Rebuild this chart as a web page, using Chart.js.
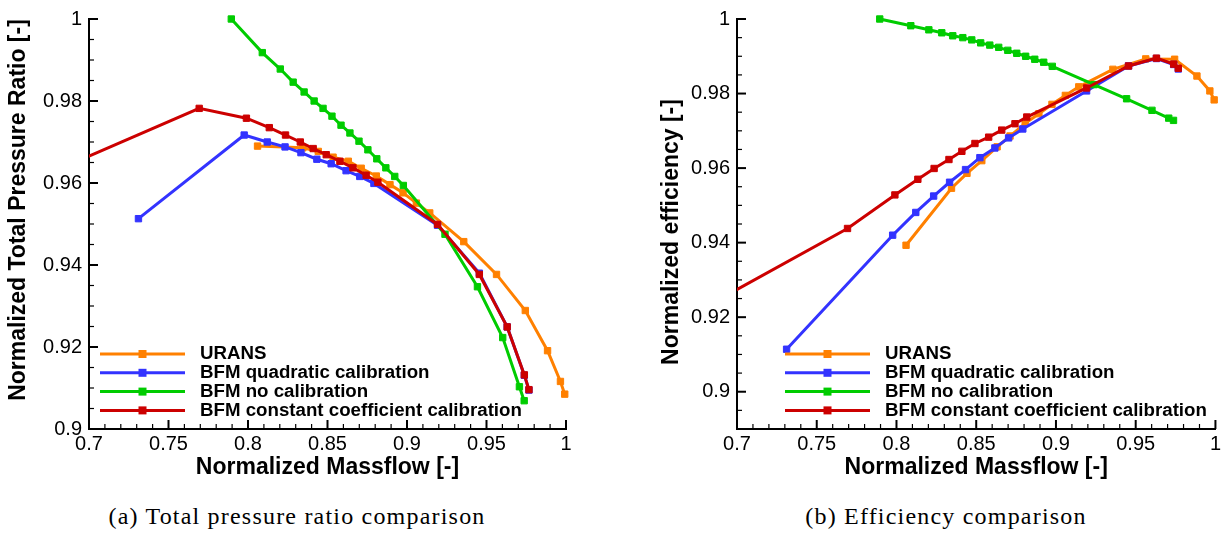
<!DOCTYPE html>
<html>
<head>
<meta charset="utf-8">
<script src="https://cdn.jsdelivr.net/npm/chart.js@4.4.1/dist/chart.umd.min.js"></script>
<style>
body { margin: 0; background: #fff; width: 1224px; height: 534px; position: relative; overflow: hidden; }
canvas { position: absolute; top: 0; }
#pressureChart { left: 0; }
#efficiencyChart { left: 612px; }
.caption { position: absolute; top: 503px; line-height: 26px; font-family: "Liberation Serif", serif; font-size: 24px; letter-spacing: 1.2px; white-space: nowrap; transform: translateX(-50%); color: #000; }
</style>
</head>
<body>
<canvas id="pressureChart" width="612" height="490"></canvas>
<canvas id="efficiencyChart" width="612" height="490"></canvas>
<div class="caption" style="left:297px">(a) Total pressure ratio comparison</div>
<div class="caption" style="left:946px">(b) Efficiency comparison</div>
<script>
// series names + colours (legend order)
const seriesNames = ["URANS", "BFM quadratic calibration", "BFM no calibration", "BFM constant coefficient calibration"];
const seriesColors = ["#ff8000", "#3333ff", "#00cc00", "#cc0000"];

// URANS
const massUrans = [0.806, 0.8345, 0.8442, 0.8535, 0.8631, 0.8712, 0.8807, 0.8893, 0.8975, 0.9059, 0.9143, 0.9357, 0.9563, 0.9744, 0.9884, 0.9965, 0.9992];
const ratioUrans = [0.9690, 0.9686, 0.9677, 0.9663, 0.9653, 0.9636, 0.9617, 0.9596, 0.9576, 0.9551, 0.9527, 0.9457, 0.9377, 0.9289, 0.9191, 0.9116, 0.9085];
const effUrans = [0.9393, 0.9546, 0.9586, 0.9620, 0.9657, 0.9686, 0.9720, 0.9746, 0.9771, 0.9795, 0.9818, 0.9865, 0.9893, 0.9892, 0.9847, 0.9807, 0.9783];

// BFM quadratic calibration
const massQuad = [0.7311, 0.7976, 0.8121, 0.8233, 0.8333, 0.8433, 0.8523, 0.8617, 0.8703, 0.8792, 0.9192, 0.9455, 0.963, 0.9738, 0.9767];
const ratioQuad = [0.9513, 0.9717, 0.9700, 0.9688, 0.9674, 0.9658, 0.9647, 0.9630, 0.9616, 0.9599, 0.9497, 0.9380, 0.9249, 0.9131, 0.9095];
const effQuad = [0.9114, 0.9420, 0.9481, 0.9525, 0.9562, 0.9596, 0.9628, 0.9654, 0.9681, 0.9705, 0.9807, 0.9874, 0.9894, 0.9878, 0.9866];

// BFM no calibration
const massNoCal = [0.7895, 0.809, 0.8203, 0.8284, 0.8353, 0.8416, 0.8472, 0.8528, 0.8585, 0.8641, 0.8698, 0.8754, 0.881, 0.8867, 0.8923, 0.8977, 0.9239, 0.9443, 0.9602, 0.9707, 0.9737];
const ratioNoCal = [1.0, 0.9918, 0.9878, 0.9846, 0.9822, 0.9800, 0.9782, 0.9763, 0.9741, 0.9722, 0.9702, 0.9681, 0.9659, 0.9637, 0.9616, 0.9594, 0.9475, 0.9347, 0.9223, 0.9103, 0.9069];
const effNoCal = [1.0, 0.9982, 0.9971, 0.9963, 0.9955, 0.9950, 0.9944, 0.9936, 0.9930, 0.9924, 0.9916, 0.9908, 0.9900, 0.9892, 0.9884, 0.9873, 0.9824, 0.9786, 0.9755, 0.9734, 0.9728];

// BFM constant coefficient calibration (first point lies left of the axis range)
const massConst = [0.65, 0.7693, 0.799, 0.8134, 0.8236, 0.8329, 0.841, 0.8492, 0.8578, 0.866, 0.8743, 0.8817, 0.9192, 0.9455, 0.963, 0.9738, 0.9767];
const ratioConst = [0.9582, 0.9782, 0.9758, 0.9735, 0.9717, 0.9700, 0.9684, 0.9669, 0.9653, 0.9637, 0.9619, 0.9602, 0.9499, 0.9377, 0.9249, 0.9132, 0.9096];
const effConst = [0.9156, 0.9438, 0.9528, 0.9570, 0.9599, 0.9623, 0.9645, 0.9666, 0.9683, 0.9702, 0.9719, 0.9737, 0.9815, 0.9874, 0.9895, 0.9879, 0.9868];

// tick labels
const massTicks = [0.7, 0.75, 0.8, 0.85, 0.9, 0.95, 1];
const ratioTicks = [0.9, 0.92, 0.94, 0.96, 0.98, 1];
const effTicks = [0.9, 0.92, 0.94, 0.96, 0.98, 1];

const massList = [massUrans, massQuad, massNoCal, massConst];
const font = "Liberation Sans";

function pairs(xs, ys) {
    return xs.map(function (x, i) { return { x: x, y: ys[i] }; });
}

function fmt(v) {
    return String(parseFloat(Number(v).toFixed(3)));
}

function makeDatasets(yLists) {
    return yLists.map(function (ys, i) {
        return {
            label: seriesNames[i],
            data: pairs(massList[i], ys),
            borderColor: seriesColors[i],
            backgroundColor: seriesColors[i],
            pointBackgroundColor: seriesColors[i],
            pointBorderColor: seriesColors[i],
            borderWidth: 3,
            pointStyle: "rect",
            pointRadius: 4.5,
            pointBorderWidth: 1,
            tension: 0,
            order: 3 - i,      // last series ends up on top, like the original
            clip: i === 3 ? { left: 0, top: 8, right: 8, bottom: 8 } : 8
        };
    });
}

// inward major/minor ticks, legend inside the plot, rotated y title
function inwardTicks(ctx, scale, step, area) {
    const n = Math.round((scale.max - scale.min) / step);
    const majors = scale.ticks.map(function (t) { return t.value; });
    for (let k = 0; k <= n; k++) {
        const v = scale.min + k * step;
        const major = majors.some(function (m) { return Math.abs(m - v) < step / 10; });
        const len = major ? 9 : 5;
        ctx.lineWidth = major ? 2 : 1.2;
        const p = scale.getPixelForValue(v);
        ctx.beginPath();
        if (scale.isHorizontal()) {
            ctx.moveTo(p, area.bottom);
            ctx.lineTo(p, area.bottom - len);
        } else {
            ctx.moveTo(area.left, p);
            ctx.lineTo(area.left + len, p);
        }
        ctx.stroke();
    }
}

const tecplotStyle = {
    id: "tecplotStyle",
    afterDraw(chart, args, opts) {
        const ctx = chart.ctx;
        const area = chart.chartArea;
        ctx.save();
        ctx.strokeStyle = "#000";
        inwardTicks(ctx, chart.scales.x, opts.xMinorStep, area);
        inwardTicks(ctx, chart.scales.y, opts.yMinorStep, area);

        const lg = opts.legend;
        ctx.font = "bold 18.7px '" + font + "'";
        ctx.textBaseline = "middle";
        ctx.textAlign = "left";
        chart.data.datasets.forEach(function (ds, i) {
            const y = lg.y + i * lg.dy;
            ctx.strokeStyle = ds.borderColor;
            ctx.lineWidth = 3;
            ctx.beginPath();
            ctx.moveTo(lg.x, y);
            ctx.lineTo(lg.x + lg.lineLen, y);
            ctx.stroke();
            ctx.fillStyle = ds.borderColor;
            ctx.fillRect(lg.x + lg.lineLen / 2 - 4, y - 4, 8, 8);
            ctx.fillStyle = "#000";
            ctx.fillText(ds.label, lg.x + lg.lineLen + lg.gap, y);
        });

        const t = opts.yTitle;
        ctx.translate(t.x, t.y);
        ctx.rotate(-Math.PI / 2);
        ctx.font = "bold 23px '" + font + "'";
        ctx.textAlign = "center";
        ctx.fillStyle = "#000";
        ctx.fillText(t.text, 0, 0);
        ctx.restore();
    }
};

function makeChart(id, yLists, yMin, yTicks, yAxisWidth, padRight, legendPos, yTitle) {
    const ctx = document.getElementById(id).getContext("2d");
    return new Chart(ctx, {
        type: "line",
        data: { datasets: makeDatasets(yLists) },
        plugins: [tecplotStyle],
        options: {
            responsive: false,
            animation: false,
            devicePixelRatio: 1,
            layout: { padding: { top: 12, right: padRight, left: 0, bottom: 0 } },
            plugins: {
                legend: { display: false },
                tooltip: { enabled: false },
                tecplotStyle: {
                    xMinorStep: 0.01,
                    yMinorStep: 0.005,
                    legend: legendPos,
                    yTitle: yTitle
                }
            },
            scales: {
                x: {
                    type: "linear",
                    min: 0.7,
                    max: 1.0,
                    afterBuildTicks: function (s) { s.ticks = massTicks.map(function (v) { return { value: v }; }); },
                    afterFit: function (s) { s.height = 61; },
                    grid: { display: true, drawOnChartArea: false, drawTicks: false },
                    border: { display: true, color: "#000", width: 2 },
                    ticks: { padding: 3, color: "#000", maxRotation: 0, autoSkip: false, font: { family: font, size: 20 }, callback: fmt },
                    title: { display: true, text: "Normalized Massflow [-]", color: "#000", font: { family: font, size: 23, weight: "bold" }, padding: { top: 0, bottom: 9 } }
                },
                y: {
                    type: "linear",
                    min: yMin,
                    max: 1.0,
                    afterBuildTicks: function (s) { s.ticks = yTicks.map(function (v) { return { value: v }; }); },
                    afterFit: function (s) { s.width = yAxisWidth; },
                    grid: { display: true, drawOnChartArea: false, drawTicks: false },
                    border: { display: true, color: "#000", width: 2 },
                    ticks: { padding: 7, color: "#000", autoSkip: false, font: { family: font, size: 20 }, callback: fmt }
                }
            }
        }
    });
}

makeChart("pressureChart", [ratioUrans, ratioQuad, ratioNoCal, ratioConst], 0.9, ratioTicks, 89, 46,
    { x: 100, y: 354, dy: 18.8, lineLen: 85, gap: 15 },
    { text: "Normalized Total Pressure Ratio [-]", x: 19, y: 210 });

makeChart("efficiencyChart", [effUrans, effQuad, effNoCal, effConst], 0.89, effTicks, 125, 7,
    { x: 173, y: 354, dy: 18.8, lineLen: 85, gap: 15 },
    { text: "Normalized efficiency [-]", x: 60, y: 232 });
</script>
</body>
</html>
